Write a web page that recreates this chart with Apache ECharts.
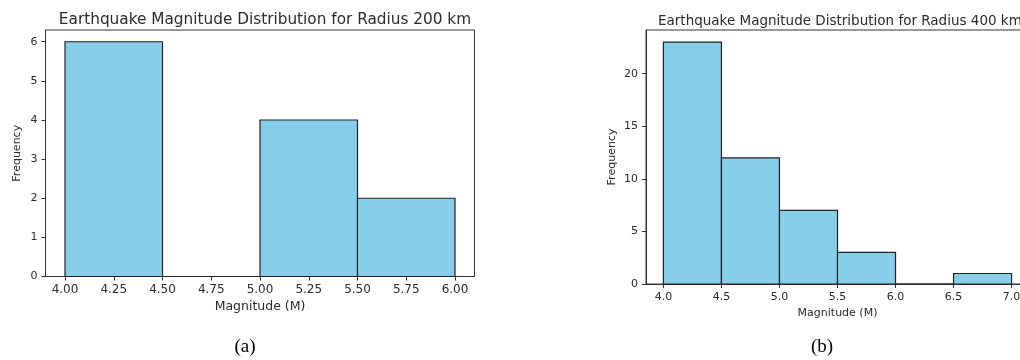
<!DOCTYPE html>
<html>
<head>
<meta charset="utf-8">
<script src="https://cdn.jsdelivr.net/npm/echarts@6/dist/echarts.min.js"></script>
<style>
  html, body { margin: 0; padding: 0; background: #fff; }
  #main { width: 1020px; height: 360px; }
</style>
</head>
<body>
<div id="main"></div>
<script>
// bin edges and counts for the two histograms
var edgesA = [4.0, 4.5, 5.0, 5.5, 6.0];
var countsA = [6, 0, 4, 2];
var edgesB = [4.0, 4.5, 5.0, 5.5, 6.0, 6.5, 7.0];
var countsB = [23, 12, 7, 3, 0, 1];

var xTicksA = [4.0, 4.25, 4.5, 4.75, 5.0, 5.25, 5.5, 5.75, 6.0];
var yTicksA = [0, 1, 2, 3, 4, 5, 6];
var xTicksB = [4.0, 4.5, 5.0, 5.5, 6.0, 6.5, 7.0];
var yTicksB = [0, 5, 10, 15, 20];

var titleA = 'Earthquake Magnitude Distribution for Radius 200 km';
var titleB = 'Earthquake Magnitude Distribution for Radius 400 km';

var FONT = 'DejaVu Sans';
var TXT = '#2b2b2b';

function toBins(edges, counts) {
    var out = [];
    for (var i = 0; i < counts.length; i++) {
        out.push([edges[i], edges[i + 1], counts[i]]);
    }
    return out;
}

function renderBin(params, api) {
    var p0 = api.coord([api.value(0), 0]);
    var p1 = api.coord([api.value(1), api.value(2)]);
    return {
        type: 'rect',
        shape: { x: p0[0], y: p1[1], width: p1[0] - p0[0], height: p0[1] - p1[1] },
        style: { fill: '#87CEEB', stroke: '#222', lineWidth: 1.2 }
    };
}

// left panel of the reference is a bit stretched sideways, so its x texts run larger
function xAxisOf(idx, min, max, ticks, digits, gap, fs, nameFs, margin) {
    return {
        type: 'value', gridIndex: idx, min: min, max: max,
        name: 'Magnitude (M)', nameLocation: 'middle', nameGap: gap,
        nameTextStyle: { fontFamily: FONT, fontSize: nameFs, color: TXT },
        axisLine: { show: true, onZero: false, lineStyle: { color: '#333', width: 1 } },
        axisTick: { show: true, length: 4, customValues: ticks, lineStyle: { color: '#333' } },
        axisLabel: {
            margin: margin, fontFamily: FONT, fontSize: fs, color: TXT,
            customValues: ticks,
            formatter: function (v) { return v.toFixed(digits); }
        },
        splitLine: { show: false }
    };
}

function yAxisOf(idx, max, ticks, gap) {
    return {
        type: 'value', gridIndex: idx, min: 0, max: max,
        name: 'Frequency', nameLocation: 'middle', nameGap: gap,
        nameTextStyle: { fontFamily: FONT, fontSize: 11, color: TXT },
        axisLine: { show: true, onZero: false, lineStyle: { color: '#333', width: 1 } },
        axisTick: { show: true, length: 4, customValues: ticks, lineStyle: { color: '#333' } },
        axisLabel: { margin: 8, fontFamily: FONT, fontSize: 11, color: TXT, customValues: ticks },
        splitLine: { show: false }
    };
}

var chart = echarts.init(document.getElementById('main'));
var option = {
    animation: false,
    backgroundColor: '#fff',
    title: [
        { text: titleA, left: 260, top: 8, textAlign: 'center',
          textStyle: { fontFamily: FONT, fontSize: 15.3, fontWeight: 'normal', color: TXT } },
        { text: titleB, left: 653, top: 9,
          textStyle: { fontFamily: FONT, fontSize: 13.5, fontWeight: 'normal', color: TXT } },
        { text: '(a)', left: 240, top: 333, textAlign: 'center',
          textStyle: { fontFamily: 'Liberation Serif', fontSize: 19, fontWeight: 'normal', color: '#000' } },
        { text: '(b)', left: 817, top: 333, textAlign: 'center',
          textStyle: { fontFamily: 'Liberation Serif', fontSize: 19, fontWeight: 'normal', color: '#000' } }
    ],
    grid: [
        { left: 45.5, top: 30, width: 429, height: 246.5, show: true, borderColor: '#333', borderWidth: 1,
          backgroundColor: 'transparent', containLabel: false, outerBoundsMode: 'none' },
        { left: 646, top: 30, width: 383, height: 254, show: true, borderColor: '#333', borderWidth: 1,
          backgroundColor: 'transparent', containLabel: false, outerBoundsMode: 'none' }
    ],
    xAxis: [
        xAxisOf(0, 3.9, 6.1, xTicksA, 2, 22, 12, 12.5, 7),
        xAxisOf(1, 3.85, 7.15, xTicksB, 1, 24, 11, 11, 8)
    ],
    yAxis: [
        yAxisOf(0, 6.3, yTicksA, 23),
        yAxisOf(1, 24.15, yTicksB, 28)
    ],
    series: [
        { type: 'custom', xAxisIndex: 0, yAxisIndex: 0, renderItem: renderBin,
          encode: { x: [0, 1], y: 2 }, data: toBins(edgesA, countsA) },
        { type: 'custom', xAxisIndex: 1, yAxisIndex: 1, renderItem: renderBin,
          encode: { x: [0, 1], y: 2 }, data: toBins(edgesB, countsB) }
    ]
};
chart.setOption(option);
</script>
</body>
</html>
